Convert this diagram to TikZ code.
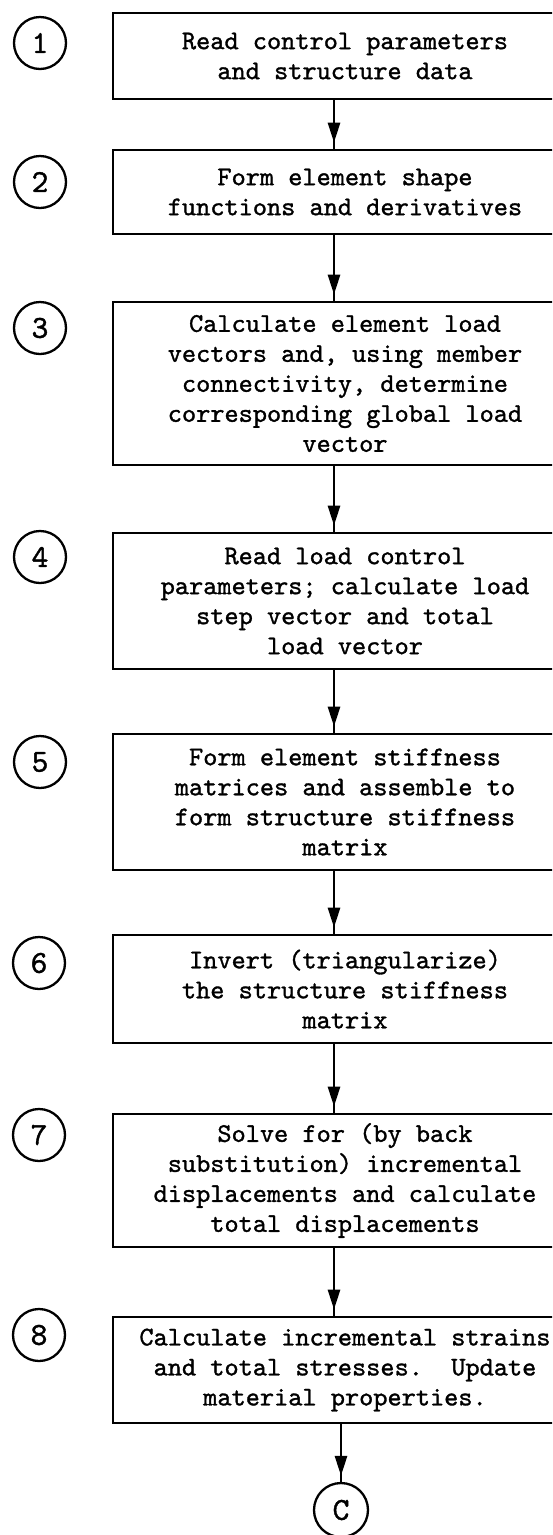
\documentclass[tikz,border=0pt]{standalone}
\usepackage{fontspec}
\usetikzlibrary{arrows.meta,decorations.markings}
% typewriter face with a heavier stroke, as on a typed sheet
\newfontfamily\typew{lmmono10-regular.otf}[FakeBold=1.2]
\frenchspacing
\tikzset{
  stepbox/.style={draw, line width=2.8pt, rectangle, inner sep=0pt,
    minimum width=464pt, align=center,
    font=\fontsize{27}{30}\selectfont\typew},
  numcirc/.style={draw, circle, line width=2.3pt, minimum size=52pt, inner sep=0pt,
    font=\fontsize{32}{32}\selectfont\typew},
  flow/.style={draw, line width=2.8pt, postaction={decorate},
    decoration={markings, mark=at position -6pt with
      {\arrow{Triangle[length=20pt,width=12pt]}}}}
}
\begin{document}
\begin{tikzpicture}[x=1pt,y=-1pt]
\useasboundingbox (0,0) rectangle (552,1535);
\clip (0,0) rectangle (552,1535);

% process steps
\node[stepbox, minimum height=86pt]  (b1) at (345,56)    {Read control parameters\\and structure data};
\node[stepbox, minimum height=84pt]  (b2) at (345,192)   {Form element shape\\functions and derivatives};
\node[stepbox, minimum height=163pt] (b3) at (345,383.5) {Calculate element load\\vectors and, using member\\connectivity, determine\\corresponding global load\\vector};
\node[stepbox, minimum height=136pt] (b4) at (345,601)   {Read load control\\parameters; calculate load\\step vector and total\\load vector};
\node[stepbox, minimum height=136pt] (b5) at (345,802)   {Form element stiffness\\matrices and assemble to\\form structure stiffness\\matrix};
\node[stepbox, minimum height=108pt] (b6) at (345,989)   {Invert (triangularize)\\the structure stiffness\\matrix};
\node[stepbox, minimum height=133pt] (b7) at (345,1180.5){Solve for (by back\\substitution) incremental\\displacements and calculate\\total displacements};
\node[stepbox, minimum height=106pt] (b8) at (345,1370)  {Calculate incremental strains\\and total stresses.\ \ Update\\material properties.};

% step numbers
\node[numcirc] (c1) at (40,43)   {1};
\node[numcirc] (c2) at (40,182)  {2};
\node[numcirc] (c3) at (40,328)  {3};
\node[numcirc] (c4) at (40,557)  {4};
\node[numcirc] (c5) at (40,762)  {5};
\node[numcirc] (c6) at (39,963)  {6};
\node[numcirc] (c7) at (39,1135) {7};
\node[numcirc] (c8) at (39,1335) {8};

% off-page connector
\node[numcirc, minimum size=54pt] (cc) at (341,1510) {C};

% flow arrows
\draw[flow] ([xshift=-11pt]b1.south) -- ([xshift=-11pt]b2.north);
\draw[flow] ([xshift=-11pt]b2.south) -- ([xshift=-11pt]b3.north);
\draw[flow] ([xshift=-11pt]b3.south) -- ([xshift=-11pt]b4.north);
\draw[flow] ([xshift=-11pt]b4.south) -- ([xshift=-11pt]b5.north);
\draw[flow] ([xshift=-11pt]b5.south) -- ([xshift=-11pt]b6.north);
\draw[flow] ([xshift=-11pt]b6.south) -- ([xshift=-11pt]b7.north);
\draw[flow] ([xshift=-11pt]b7.south) -- ([xshift=-11pt]b8.north);
\draw[flow] (b8.south -| cc) -- (cc.north);
\end{tikzpicture}
\end{document}
